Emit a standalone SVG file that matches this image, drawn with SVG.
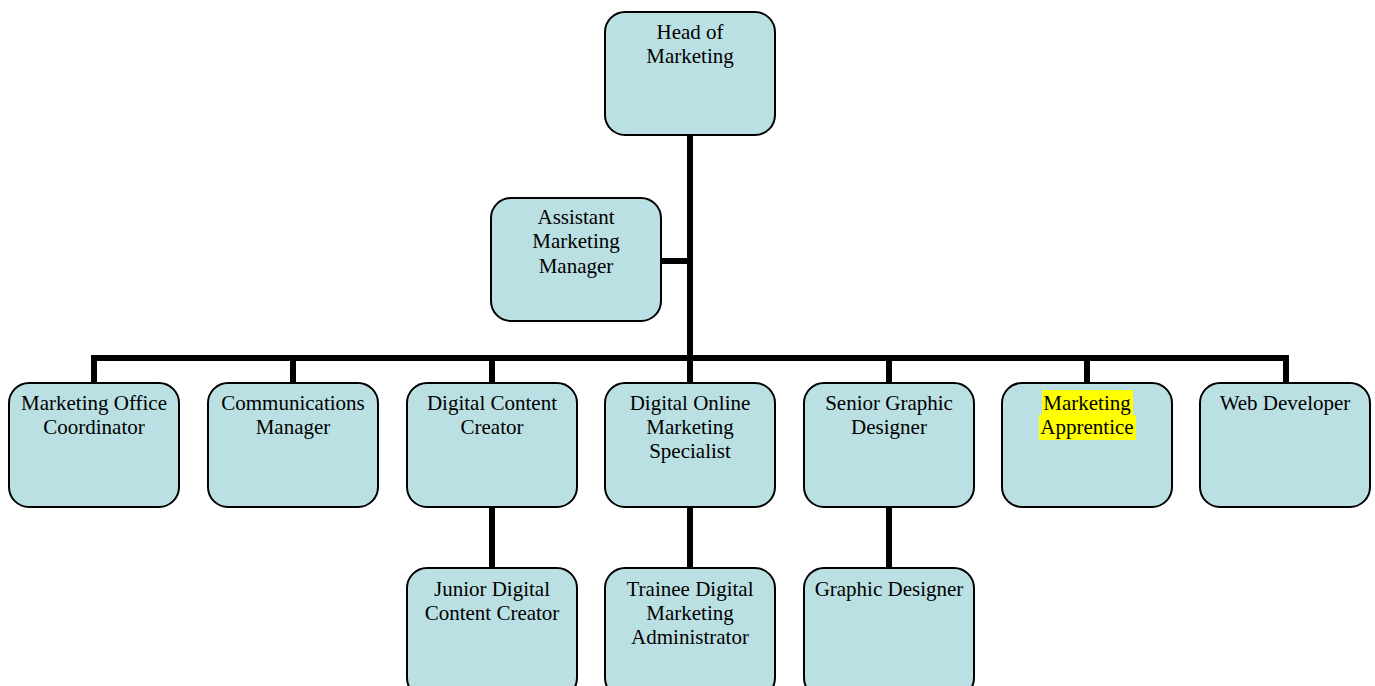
<svg xmlns="http://www.w3.org/2000/svg" width="1375" height="686" viewBox="0 0 1375 686">
<style>
.box{fill:#BBE0E3;stroke:#000;stroke-width:2}
.t{font-family:"Liberation Serif","Times New Roman",serif;font-size:21px;fill:#000;text-anchor:middle}
.c{stroke:#000;stroke-width:6;fill:none}
</style>
<rect width="1375" height="686" fill="#fff"/>
<g id="connectors">
<path class="c" d="M690 135V358M661 261H690M95 358H1286M94 355V383M293 358V383M492 358V383M690 358V383M889 358V383M1087 358V383M1286 355V383M492 507V568M690 507V568M889 507V568"/>
</g>
<g id="head"><rect class="box" x="605" y="12" width="170" height="123" rx="20"/><text class="t" x="690" y="39">Head of</text><text class="t" x="690" y="63">Marketing</text></g>
<g id="assistant"><rect class="box" x="491" y="198" width="170" height="123" rx="20"/><text class="t" x="576" y="224">Assistant</text><text class="t" x="576" y="248">Marketing</text><text class="t" x="576" y="273">Manager</text></g>
<g id="moc"><rect class="box" x="9" y="383" width="170" height="124" rx="20"/><text class="t" x="94" y="410">Marketing Office</text><text class="t" x="94" y="434">Coordinator</text></g>
<g id="comm"><rect class="box" x="208" y="383" width="170" height="124" rx="20"/><text class="t" x="293" y="410">Communications</text><text class="t" x="293" y="434">Manager</text></g>
<g id="dcc"><rect class="box" x="407" y="383" width="170" height="124" rx="20"/><text class="t" x="492" y="410">Digital Content</text><text class="t" x="492" y="434">Creator</text></g>
<g id="doms"><rect class="box" x="605" y="383" width="170" height="124" rx="20"/><text class="t" x="690" y="410">Digital Online</text><text class="t" x="690" y="434">Marketing</text><text class="t" x="690" y="458">Specialist</text></g>
<g id="sgd"><rect class="box" x="804" y="383" width="170" height="124" rx="20"/><text class="t" x="889" y="410">Senior Graphic</text><text class="t" x="889" y="434">Designer</text></g>
<g id="ma"><rect class="box" x="1002" y="383" width="170" height="124" rx="20"/><rect x="1042" y="390" width="91" height="25" fill="#FFFF00"/><rect x="1039" y="415" width="97" height="25" fill="#FFFF00"/><text class="t" x="1087" y="410">Marketing</text><text class="t" x="1087" y="434">Apprentice</text></g>
<g id="web"><rect class="box" x="1200" y="383" width="170" height="124" rx="20"/><text class="t" x="1285" y="410">Web Developer</text></g>
<g id="jdcc"><rect class="box" x="407" y="568" width="170" height="130" rx="20"/><text class="t" x="492" y="596">Junior Digital</text><text class="t" x="492" y="620">Content Creator</text></g>
<g id="tdma"><rect class="box" x="605" y="568" width="170" height="130" rx="20"/><text class="t" x="690" y="596">Trainee Digital</text><text class="t" x="690" y="620">Marketing</text><text class="t" x="690" y="644">Administrator</text></g>
<g id="gd"><rect class="box" x="804" y="568" width="170" height="130" rx="20"/><text class="t" x="889" y="596">Graphic Designer</text></g>
</svg>
